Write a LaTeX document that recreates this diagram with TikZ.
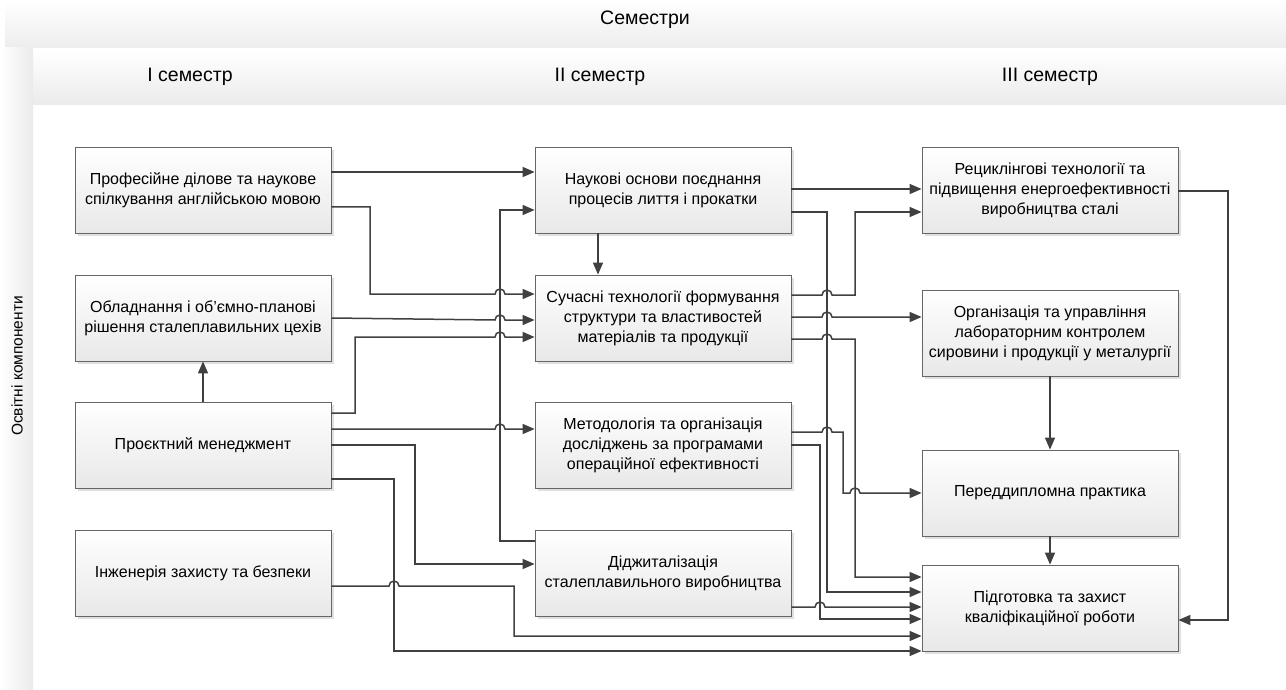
\documentclass[tikz,border=0pt]{standalone}
\usepackage{fontspec}
\setmainfont{Liberation Sans}
\usepackage{tikz}
\usetikzlibrary{shapes.geometric, arrows.meta, positioning, calc, shadows}

\tikzset{
  course/.style={draw=black!60, line width=0.8pt, top color=white, bottom color=black!9,
    minimum width=256pt, minimum height=86pt, align=center, font=\fontsize{16}{20}\selectfont,
    drop shadow={shadow xshift=3pt, shadow yshift=-3pt, fill=black!20, opacity=0.6}},
  link/.style={draw=black!75, line width=1.5pt, -{Triangle[length=12pt,width=10pt]}},
  band/.style={font=\fontsize{19.5}{23}\selectfont},
}

\begin{document}
\begin{tikzpicture}[x=1pt, y=-1pt]
  \useasboundingbox (0,0) rectangle (1286,690);
  % header bands
  \shade[top color=white, bottom color=black!7] (5,0) rectangle (1286,48);
  \shade[top color=white, bottom color=black!8] (33,50) rectangle (1286,105);
  \shade[left color=white, right color=black!8] (0,48) rectangle (33,690);
  \node[band] (sem) at (645,20) {Семестри};
  \node[band] (sem1) at (190,77) {I семестр};
  \node[band] (sem2) at (600,77) {II семестр};
  \node[band] (sem3) at (1050,77) {III семестр};
  \node[rotate=90, font=\fontsize{15.5}{18}\selectfont] (comp) at (17,366) {Освітні компоненти};

  % I semester
  \node[course] (a1) at (203,190) {Професійне ділове та наукове\\спілкування англійською мовою};
  \node[course] (a2) at (203,318) {Обладнання і об’ємно-планові\\рішення сталеплавильних цехів};
  \node[course] (a3) at (203,445) {Проєктний менеджмент};
  \node[course] (a4) at (203,573) {Інженерія захисту та безпеки};
  % II semester
  \node[course] (b1) at (663,190) {Наукові основи поєднання\\процесів лиття і прокатки};
  \node[course] (b2) at (663,318) {Сучасні технології формування\\структури та властивостей\\матеріалів та продукції};
  \node[course] (b3) at (663,445) {Методологія та організація\\досліджень за програмами\\операційної ефективності};
  \node[course] (b4) at (663,573) {Діджиталізація\\сталеплавильного виробництва};
  % III semester
  \node[course] (c1) at (1050,190) {Рециклінгові технології та\\підвищення енергоефективності\\виробництва сталі};
  \node[course] (c2) at (1050,333) {Організація та управління\\лабораторним контролем\\сировини і продукції у металургії};
  \node[course] (c3) at (1050,493) {Переддипломна практика};
  \node[course] (c4) at (1050,608) {Підготовка та захист\\кваліфікаційної роботи};

  % I -> II
  \draw[link] (a1.east |- 0,172) -- (b1.west |- 0,172);
  \draw[link] (a1.east |- 0,207) -| (370,294) -- (495,294) arc[start angle=180, end angle=0, radius=5pt] -- (b2.west |- 0,294);
  \draw[link] (a2.east |- 0,318) -- (495,320) arc[start angle=180, end angle=0, radius=5pt] -- (b2.west |- 0,320);
  \draw[link] (a3.east |- 0,413) -| (355,337) -- (495,337) arc[start angle=180, end angle=0, radius=5pt] -- (b2.west |- 0,337);
  \draw[link] (b4.west |- 0,541) -| (500,210) -- (b1.west |- 0,210);
  \draw[link] (a3.east |- 0,429) -- (495,429) arc[start angle=180, end angle=0, radius=5pt] -- (b3.west |- 0,429);
  \draw[link] (a3.east |- 0,445) -| (415,564) -- (b4.west |- 0,564);
  \draw[link] (a3.east |- 0,479) -| (394,651) -- (c4.west |- 0,651);
  \draw[link] (a4.east |- 0,586) -- (389,586) arc[start angle=180, end angle=0, radius=5pt] -| (514,636) -- (c4.west |- 0,636);
  \draw[link] (a3.north) -- (a2.south);
  \draw[link] (b1.south -| 598,0) -- (b2.north -| 598,0);

  % II -> III
  \draw[link] (b1.east |- 0,189) -- (c1.west |- 0,189);
  \draw[link] (b1.east |- 0,212) -| (827,592) -- (c4.west |- 0,592);
  \draw[link] (b2.east |- 0,295) -- (822,295) arc[start angle=180, end angle=0, radius=5pt] -| (855,212) -- (c1.west |- 0,212);
  \draw[link] (b2.east |- 0,317) -- (822,317) arc[start angle=180, end angle=0, radius=5pt] -- (c2.west |- 0,317);
  \draw[link] (b2.east |- 0,339) -- (822,339) arc[start angle=180, end angle=0, radius=5pt] -| (855,577) -- (c4.west |- 0,577);
  \draw[link] (b3.east |- 0,432) -- (822,432) arc[start angle=180, end angle=0, radius=5pt] -| (843,493) -- (850,493) arc[start angle=180, end angle=0, radius=5pt] -- (c3.west |- 0,493);
  \draw[link] (b3.east |- 0,445) -| (820,619) -- (c4.west |- 0,619);
  \draw[link] (b4.east |- 0,607) -- (815,607) arc[start angle=180, end angle=0, radius=5pt] -- (c4.west |- 0,607);

  % III
  \draw[link] (c1.east |- 0,191) -| (1228,620) -- (c4.east |- 0,620);
  \draw[link] (c2.south) -- (c3.north);
  \draw[link] (c3.south) -- (c4.north);
\end{tikzpicture}
\end{document}
